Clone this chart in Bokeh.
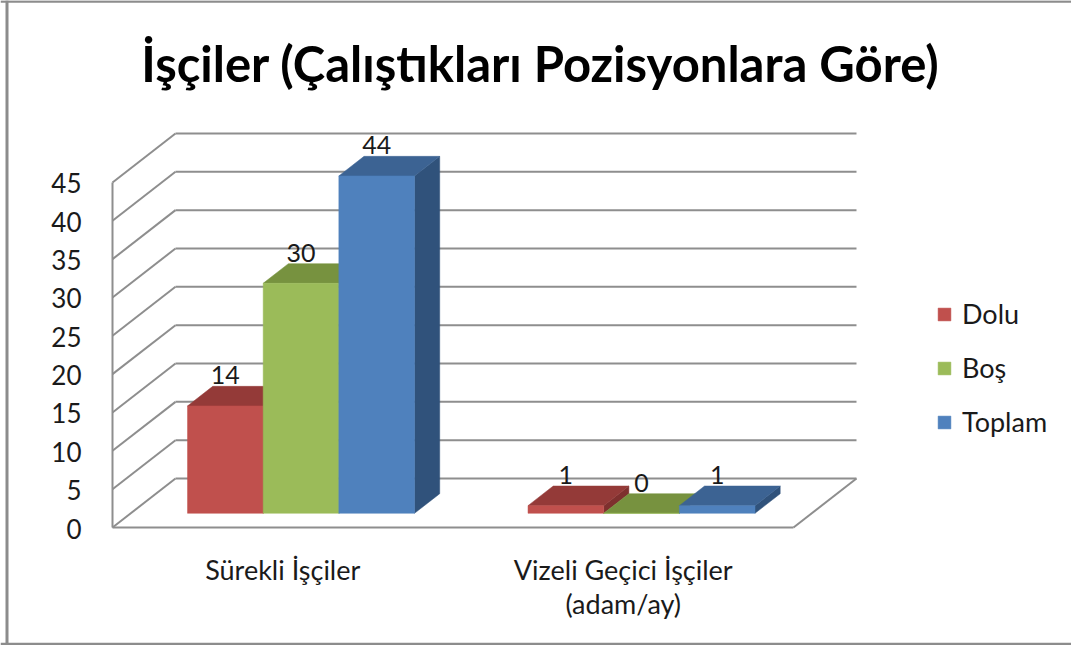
from bokeh.plotting import figure
from bokeh.models import Range1d, ColumnDataSource, Legend, LegendItem, Span
from bokeh.embed import file_html
from bokeh.resources import INLINE
from bokeh.core.properties import value

# ---------------- data ----------------
title_text = "İşçiler (Çalıştıkları Pozisyonlara Göre)"
categories = ["Sürekli İşçiler", "Vizeli Geçici İşçiler\n(adam/ay)"]
series_names = ["Dolu", "Boş", "Toplam"]
dolu = [14, 1]
bos = [30, 0]
toplam = [44, 1]
y_ticks = [0, 5, 10, 15, 20, 25, 30, 35, 40, 45]

series_values = [dolu, bos, toplam]
front_colors = ["#C0504D", "#9BBB59", "#4F81BD"]
top_colors = ["#943A38", "#77923F", "#3C6393"]
side_colors = ["#7E302E", "#63792F", "#30527B"]

# ---------------- layout / pseudo-3D projection parameters ----------------
W, H = 1071, 645
SX = 340.5          # pixels per category unit
SY = 7.667          # pixels per value unit
ORIGIN_PX = (112, 527)   # screen position of category 0 / value 0 at the front
X0 = -ORIGIN_PX[0] / SX
Y1 = ORIGIN_PX[1] / SY

DX = 0.185      # depth shift in category units
DY = 6.39       # depth shift in value units
GAP = 0.1667    # half gap per category (category units)
BW = 0.2222     # bar width
D0, D1 = 0.29, 0.69   # bar depth extent (fraction of full depth)
N_CAT = len(categories)
Y_MAX = y_ticks[-1]

def proj(u, v, d):
    return u + d * DX, v + d * DY

p = figure(width=W, height=H, output_backend="svg", toolbar_location=None,
           x_range=Range1d(X0, X0 + W / SX), y_range=Range1d(Y1 - H / SY, Y1),
           x_axis_location=None, y_axis_location=None, min_border=0,
           tools="")
p.grid.visible = False
p.outline_line_color = None
p.background_fill_color = "white"
p.border_fill_color = "white"

GRID = "#8E8E8E"

# back wall gridlines and left wall lines
x0s, y0s, x1s, y1s = [], [], [], []
for t in y_ticks:
    a = proj(0, t, 1); b = proj(N_CAT, t, 1)
    x0s.append(a[0]); y0s.append(a[1]); x1s.append(b[0]); y1s.append(b[1])
    a = proj(0, t, 0); b = proj(0, t, 1)
    x0s.append(a[0]); y0s.append(a[1]); x1s.append(b[0]); y1s.append(b[1])
# left wall front vertical edge
a = proj(0, 0, 0); b = proj(0, Y_MAX, 0)
x0s.append(a[0]); y0s.append(a[1]); x1s.append(b[0]); y1s.append(b[1])
# floor front and right edges
a = proj(0, 0, 0); b = proj(N_CAT, 0, 0)
x0s.append(a[0]); y0s.append(a[1]); x1s.append(b[0]); y1s.append(b[1])
a = proj(N_CAT, 0, 0); b = proj(N_CAT, 0, 1)
x0s.append(a[0]); y0s.append(a[1]); x1s.append(b[0]); y1s.append(b[1])
p.segment(x0s, y0s, x1s, y1s, line_color=GRID, line_width=2)

# bars
xs, ys, fills = [], [], []
front_index = {}
lab_x, lab_y, lab_t = [], [], []
for i in range(N_CAT):
    for j, vals in enumerate(series_values):
        v = vals[i]
        u0 = i + GAP + j * BW
        u1 = u0 + BW
        # side face
        pts = [proj(u1, 0, D0), proj(u1, 0, D1), proj(u1, v, D1), proj(u1, v, D0)]
        xs.append([q[0] for q in pts]); ys.append([q[1] for q in pts]); fills.append(side_colors[j])
        # top face
        pts = [proj(u0, v, D0), proj(u1, v, D0), proj(u1, v, D1), proj(u0, v, D1)]
        xs.append([q[0] for q in pts]); ys.append([q[1] for q in pts]); fills.append(top_colors[j])
        # front face
        pts = [proj(u0, 0, D0), proj(u1, 0, D0), proj(u1, v, D0), proj(u0, v, D0)]
        xs.append([q[0] for q in pts]); ys.append([q[1] for q in pts]); fills.append(front_colors[j])
        if j not in front_index:
            front_index[j] = len(fills) - 1
        cx, cy = proj((u0 + u1) / 2, v, D1)
        lab_x.append(cx - (D1 - D0) * DX); lab_y.append(cy); lab_t.append(str(v))

src = ColumnDataSource(dict(xs=xs, ys=ys, fill=fills))
bars = p.patches("xs", "ys", source=src, fill_color="fill", line_color="fill", line_width=0.5)

FONT = value("Lato")
TXT = "#1a1a1a"

# data labels
p.text(lab_x, lab_y, text=lab_t, text_align="center", text_baseline="middle",
       y_offset=-11, text_font=FONT, text_font_size="25px", text_color=TXT)

# y tick labels
p.text([0] * len(y_ticks), y_ticks, text=[str(t) for t in y_ticks], text_align="right",
       text_baseline="middle", x_offset=-31, y_offset=1, text_font=FONT,
       text_font_size="26px", text_color=TXT)

# category labels
p.text([i + 0.5 for i in range(N_CAT)], [0] * N_CAT, text=categories, text_align="center",
       text_baseline="top", y_offset=25, text_font=FONT, text_font_size="27px",
       text_color=TXT, text_line_height=1.05)

# title
p.text([X0 + 540 / SX], [Y1], text=[title_text],
       text_align="center", text_baseline="middle", y_offset=62, text_font=FONT,
       text_font_style="bold", text_font_size="49px", text_color="black")

# legend
items = [LegendItem(label=series_names[j], renderers=[bars], index=front_index[j]) for j in range(3)]
legend = Legend(items=items, location=(936, H - 438), orientation="vertical",
                glyph_width=16, glyph_height=16, label_standoff=10, spacing=21,
                label_height=28, padding=0, margin=0, border_line_color=None,
                background_fill_alpha=0, label_text_font="Lato", label_text_font_size="27px",
                label_text_color=TXT)
p.add_layout(legend, "center")

# outer border (left, top, bottom)
BORDER = "#8C8C8C"
p.add_layout(Span(location=X0 + 6.5 / SX, dimension="height", line_color=BORDER, line_width=3))
p.add_layout(Span(location=Y1 - 1 / SY, dimension="width", line_color=BORDER, line_width=2.5))
p.add_layout(Span(location=Y1 - 643.5 / SY, dimension="width", line_color=BORDER, line_width=2.5))

open("out.html", "w").write(file_html(p, INLINE))
